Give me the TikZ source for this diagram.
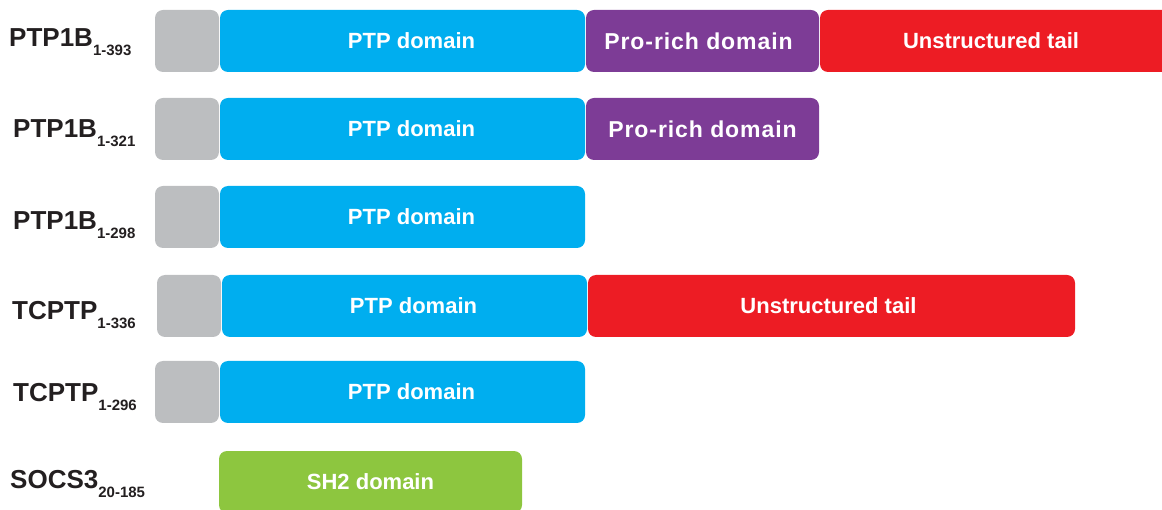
\documentclass[tikz,border=0pt]{standalone}
\usepackage{fontspec}
\setmainfont{Liberation Sans}
\usetikzlibrary{positioning}
\definecolor{linkgray}{HTML}{BCBEC0}
\definecolor{ptpblue}{HTML}{00AEEF}
\definecolor{propurple}{HTML}{7D3C96}
\definecolor{tailred}{HTML}{ED1C24}
\definecolor{shgreen}{HTML}{8DC63F}
\definecolor{labelink}{HTML}{231F20}
\newcommand{\protname}[2]{#1\raisebox{-9pt}{\fontsize{15}{15}\selectfont #2}}
\newcommand{\prorich}{\fontsize{23}{23}\selectfont\bfseries\addfontfeatures{LetterSpace=4}Pro-rich domain}

\begin{document}
\begin{tikzpicture}[x=1pt, y=-1pt,
        dom/.style={anchor=west, rounded corners=8pt, minimum height=62pt, inner sep=0pt, outer sep=0pt,
            text=white, font=\fontsize{22}{22}\selectfont\bfseries},
        lbl/.style={anchor=base west, inner sep=0pt, text=labelink, font=\fontsize{26}{26}\selectfont\bfseries}]
    \useasboundingbox (0, 0) rectangle (1162, 510);
    \clip (0, 0) rectangle (1162, 510);
    \foreach \y/\x/\n in {41/155/1, 129/155/2, 217/155/3, 306/157/4, 392/155/5} {
        \node[dom, fill=linkgray, minimum width=64pt] (link\n) at (\x, \y) {};
        \node[dom, fill=ptpblue, minimum width=365pt, right=1pt of link\n] (ptp\n) {\hspace*{18pt}PTP domain};
    }
    \node[dom, fill=propurple, minimum width=233pt, right=1pt of ptp1] (pro1) {\hspace*{-8pt}\prorich};
    \node[dom, fill=propurple, minimum width=233pt, right=1pt of ptp2] (pro2) {\prorich};
    \node[dom, fill=tailred, minimum width=358pt, right=1pt of pro1] (tail1) {\hspace*{-16pt}Unstructured tail};
    \node[dom, fill=tailred, minimum width=487pt, right=1pt of ptp4] (tail4) {\hspace*{-6pt}Unstructured tail};
    \node[dom, fill=shgreen, minimum width=303pt] (sh2) at (219, 482) {SH2 domain};

    \node[lbl] (name1) at (9, 47) {\protname{PTP1B}{1-393}};
    \node[lbl] (name2) at (13, 138) {\protname{PTP1B}{1-321}};
    \node[lbl] (name3) at (13, 230) {\protname{PTP1B}{1-298}};
    \node[lbl] (name4) at (12, 320) {\protname{TCPTP}{1-336}};
    \node[lbl] (name5) at (13, 402) {\protname{TCPTP}{1-296}};
    \node[lbl] (name6) at (10, 488) {\protname{SOCS3}{20-185}};
\end{tikzpicture}
\end{document}
